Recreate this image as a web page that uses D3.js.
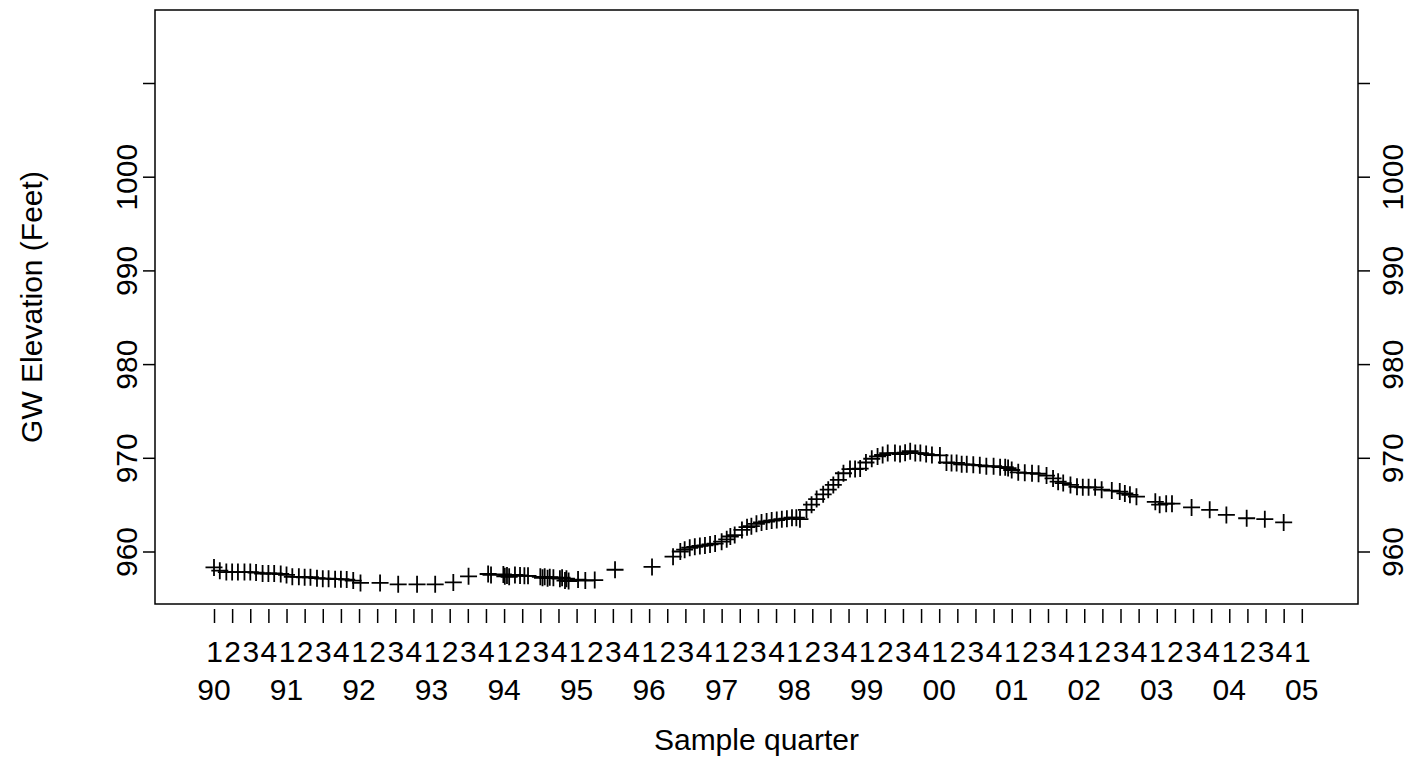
<!DOCTYPE html>
<html>
<head>
<meta charset="utf-8">
<script src="https://cdn.jsdelivr.net/npm/d3@7"></script>
<style>
  body { margin: 0; background: #fff; }
  svg text { font-family: "Liberation Sans", Arial, sans-serif; fill: #000; }
</style>
</head>
<body>
<script>
// sample dates (decimal years) and groundwater elevations
const sampleDates = [
  1990.00, 1990.08, 1990.17, 1990.25, 1990.33, 1990.42, 1990.50, 1990.58, 1990.67, 1990.75, 1990.83, 1990.92,
  1991.00, 1991.08, 1991.17, 1991.25, 1991.33, 1991.42, 1991.50, 1991.58, 1991.67, 1991.75, 1991.83, 1991.92,
  1992.02, 1992.29, 1992.54, 1992.80, 1993.05, 1993.30, 1993.51,
  1993.78, 1993.82, 1993.99, 1994.01, 1994.04, 1994.07, 1994.15, 1994.22, 1994.28, 1994.33,
  1994.50, 1994.53, 1994.56, 1994.60, 1994.63, 1994.68, 1994.77, 1994.80, 1994.84, 1994.86, 1994.89,
  1995.02, 1995.12, 1995.25, 1995.53, 1996.04, 1996.33,
  1996.43, 1996.49, 1996.56, 1996.63, 1996.70, 1996.77, 1996.84, 1996.91,
  1997.00, 1997.07, 1997.12, 1997.18, 1997.28, 1997.35, 1997.41, 1997.48, 1997.55, 1997.62, 1997.69, 1997.76, 1997.83, 1997.90, 1997.97,
  1998.03, 1998.08, 1998.17, 1998.24, 1998.31, 1998.40, 1998.47, 1998.54, 1998.61, 1998.68, 1998.77, 1998.84, 1998.91, 1998.99,
  1999.07, 1999.15, 1999.22, 1999.29, 1999.39, 1999.46, 1999.53, 1999.60, 1999.67, 1999.74, 1999.82, 1999.90,
  2000.01, 2000.10, 2000.17, 2000.24, 2000.31, 2000.38, 2000.47, 2000.56, 2000.65, 2000.75, 2000.84, 2000.91, 2000.95,
  2001.00, 2001.09, 2001.18, 2001.28, 2001.37, 2001.48, 2001.57, 2001.64, 2001.71, 2001.81, 2001.90, 2001.98,
  2002.06, 2002.15, 2002.24, 2002.38, 2002.49, 2002.56, 2002.63, 2002.72, 2002.98,
  2003.04, 2003.13, 2003.21, 2003.48, 2003.73, 2003.96, 2004.24, 2004.49, 2004.75
];
const gwElevation = [
  958.3, 957.95, 957.8, 957.8, 957.8, 957.8, 957.8, 957.75, 957.65, 957.65, 957.65, 957.6,
  957.5, 957.3, 957.3, 957.25, 957.25, 957.15, 957.1, 957.1, 957.05, 957.05, 957.0, 956.9,
  956.65, 956.65, 956.5, 956.5, 956.5, 956.7, 957.35,
  957.6, 957.5, 957.55, 957.35, 957.45, 957.3, 957.5, 957.45, 957.4, 957.4,
  957.3, 957.2, 957.3, 957.15, 957.25, 957.2, 957.1, 957.2, 956.9, 957.1, 956.85,
  957.0, 956.9, 956.95, 958.05, 958.35, 959.45,
  960.0, 960.2, 960.4, 960.5, 960.6, 960.65, 960.75, 960.85,
  961.05, 961.3, 961.6, 961.75, 962.3, 962.6, 962.7, 962.95, 963.1, 963.2, 963.3, 963.35, 963.45, 963.5, 963.6,
  963.6, 963.45, 964.45, 965.0, 965.6, 966.1, 966.6, 967.1, 967.65, 968.35, 968.8, 968.8, 968.85, 969.5,
  969.9, 970.15, 970.3, 970.5, 970.5, 970.4, 970.55, 970.7, 970.5, 970.5, 970.4, 970.3,
  970.25, 969.5, 969.45, 969.45, 969.3, 969.3, 969.25, 969.2, 969.1, 969.1, 969.0, 969.0, 968.9,
  968.7, 968.45, 968.4, 968.35, 968.3, 968.1, 967.8, 967.45, 967.3, 967.1, 966.9, 966.85,
  966.85, 966.85, 966.6, 966.5, 966.4, 966.2, 966.05, 965.85, 965.3,
  965.0, 965.1, 965.1, 964.7, 964.45, 963.9, 963.55, 963.45, 963.1
];

// tick labels
const yTicks = [960, 970, 980, 990, 1000, 1010];
const yTickLabels = ["960", "970", "980", "990", "1000", ""];
const quarterLabels = ["1", "2", "3", "4"];
const yearLabels = ["90", "91", "92", "93", "94", "95", "96", "97", "98", "99",
  "00", "01", "02", "03", "04", "05"];
const firstYear = 1990;

const W = 1427, H = 762;
const box = { left: 155, right: 1358, top: 10, bottom: 604 };
const fontSize = 30;

const svg = d3.select("body").append("svg")
  .attr("width", W)
  .attr("height", H);

const x = d3.scaleLinear().domain([1990, 2005]).range([214, 1301.8]);
const y = d3.scaleLinear().domain([960, 1010]).range([551.5, 83]);

// quarter tick positions: every quarter from first to last year label
const quarterTicks = d3.range(0, (yearLabels.length - 1) * 4 + 1).map(i => firstYear + i / 4);

// plot frame
svg.append("rect")
  .attr("x", box.left)
  .attr("y", box.top)
  .attr("width", box.right - box.left)
  .attr("height", box.bottom - box.top)
  .attr("fill", "none")
  .attr("stroke", "#000")
  .attr("stroke-width", 1.5);

// left axis
const gl = svg.append("g")
  .attr("transform", `translate(${box.left},0)`)
  .call(d3.axisLeft(y).tickValues(yTicks).tickSize(12)
    .tickFormat((d, i) => yTickLabels[i]));
gl.select(".domain").remove();
gl.selectAll("line").attr("stroke", "#000").attr("stroke-width", 1.5);
gl.selectAll("text")
  .attr("transform", "rotate(-90)")
  .attr("x", 0).attr("y", -18).attr("dy", 0)
  .attr("text-anchor", "middle")
  .style("font-size", fontSize + "px");

// right axis
const gr = svg.append("g")
  .attr("transform", `translate(${box.right},0)`)
  .call(d3.axisRight(y).tickValues(yTicks).tickSize(12)
    .tickFormat((d, i) => yTickLabels[i]));
gr.select(".domain").remove();
gr.selectAll("line").attr("stroke", "#000").attr("stroke-width", 1.5);
gr.selectAll("text")
  .attr("transform", "rotate(-90)")
  .attr("x", 0).attr("y", 45).attr("dy", 0)
  .attr("text-anchor", "middle")
  .style("font-size", fontSize + "px");

// bottom axis: quarter ticks with quarter digits
const gb = svg.append("g")
  .attr("transform", `translate(0,${box.bottom + 5})`)
  .call(d3.axisBottom(x).tickValues(quarterTicks).tickSize(14)
    .tickFormat((d, i) => quarterLabels[i % 4]));
gb.select(".domain").remove();
gb.selectAll("line").attr("stroke", "#000").attr("stroke-width", 1.5);
gb.selectAll("text")
  .attr("y", 662 - box.bottom - 5).attr("dy", 0)
  .style("font-size", fontSize + "px");

// year labels under the Q1 digits
svg.append("g").selectAll("text")
  .data(yearLabels)
  .enter()
  .append("text")
  .attr("x", (d, i) => x(firstYear + i))
  .attr("y", 700)
  .attr("text-anchor", "middle")
  .style("font-size", fontSize + "px")
  .text(d => d);

// axis titles
svg.append("text")
  .attr("x", (box.left + box.right) / 2)
  .attr("y", 750)
  .attr("text-anchor", "middle")
  .style("font-size", fontSize + "px")
  .text("Sample quarter");

svg.append("text")
  .attr("transform", `translate(42,${(box.top + box.bottom) / 2}) rotate(-90)`)
  .attr("text-anchor", "middle")
  .style("font-size", fontSize + "px")
  .text("GW Elevation (Feet)");

// data points as plus signs
const pts = sampleDates.map((d, i) => ({ date: d, elev: gwElevation[i] }));
svg.append("g").selectAll("path")
  .data(pts)
  .enter()
  .append("path")
  .attr("transform", d => `translate(${x(d.date)},${y(d.elev)})`)
  .attr("d", "M-8.5,0H8.5M0,-8.5V8.5")
  .attr("stroke", "#000")
  .attr("stroke-width", 1.8)
  .attr("fill", "none");
</script>
</body>
</html>
